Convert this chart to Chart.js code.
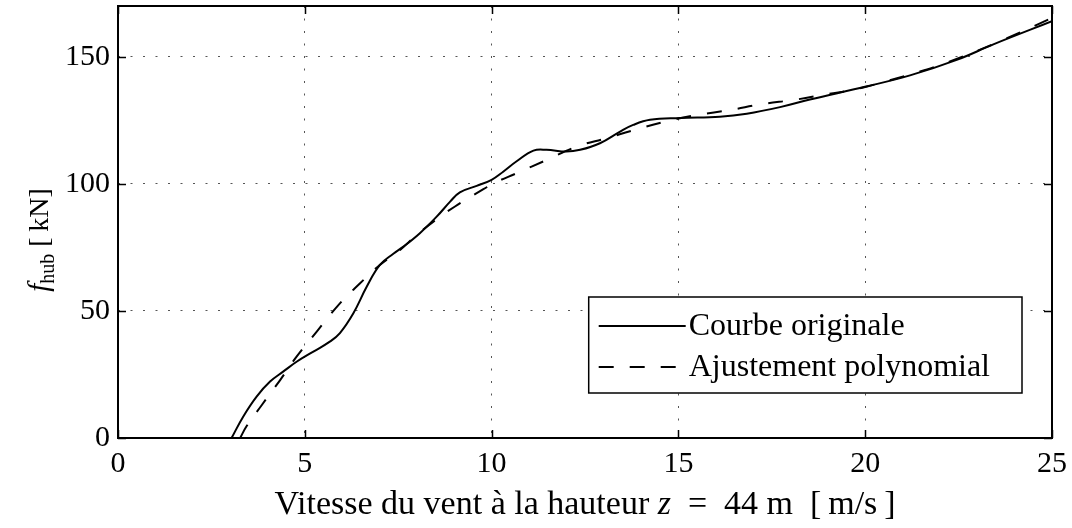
<!DOCTYPE html>
<html>
<head>
<meta charset="utf-8">
<script src="https://cdn.jsdelivr.net/npm/chart.js@4/dist/chart.umd.min.js"></script>
<style>
  html, body { margin: 0; padding: 0; background: #fff; }
  #wrap { width: 1072px; height: 528px; }
</style>
</head>
<body>
<div id="wrap"><canvas id="fhub"></canvas></div>
<script>
// wind speed [m/s] and hub force [kN], measured curve
const speedOriginal = [3.04, 3.35, 3.71, 4.07, 4.42, 4.78, 5.23, 5.67, 5.94, 6.3, 6.66, 7.01, 7.37, 7.64, 8.08, 8.53,
  8.89, 9.15, 9.6, 10.0, 10.31, 10.67, 11.12, 11.47, 12.0, 12.37, 12.9, 13.44, 13.79, 14.24, 15.04, 16.11, 16.83,
  17.72, 18.52, 20.02, 21.2, 22.45, 23.43, 25.0];
const forceOriginal = [0, 8.4, 16.3, 22.2, 26.1, 30.0, 34.0, 37.9, 41.3, 49.1, 59.6, 68.1, 72.5, 75.3, 80.6, 87.1,
  93.0, 96.7, 99.2, 101.6, 104.8, 108.9, 113.1, 113.4, 112.7, 113.4, 116.0, 120.6, 123.2, 125.2, 125.9, 126.4, 127.6,
  130.2, 133.2, 138.3, 142.7, 148.8, 154.9, 164.0];

// polynomial fit of the same curve
const speedFit = [3.27, 3.44, 3.85, 4.34, 4.78, 5.32, 5.94, 6.48, 7.0, 7.55, 8.0, 8.62, 9.02, 9.38, 9.78, 10.09,
  10.67, 11.47, 12.28, 13.08, 13.79, 14.7, 15.5, 16.4, 17.2, 18.16, 18.97, 19.77, 20.66, 21.47, 22.27, 23.43, 25.0];
const forceFit = [0, 4.6, 13.0, 22.8, 32.0, 41.9, 53.0, 60.9, 68.0, 74.0, 80.0, 87.1, 91.1, 94.4, 97.9, 100.5,
  104.2, 109.4, 114.7, 118.0, 121.1, 124.7, 127.1, 129.1, 131.3, 133.2, 135.3, 137.3, 140.8, 144.2, 148.2, 155.0, 165.3];

const xTicks = [0, 5, 10, 15, 20, 25];
const yTicks = [0, 50, 100, 150];
const seriesNames = ['Courbe originale', 'Ajustement polynomial'];

const SERIF = '"Liberation Serif", "DejaVu Serif", serif';
const FIT_DASH = [15, 16];

const toPoints = (xs, ys) => xs.map((x, i) => ({x: x, y: ys[i]}));

// draws runs of text with mixed styles starting at (x, y), returns the width
function drawRuns(ctx, runs, x, y, measureOnly) {
  let w = 0;
  for (const r of runs) {
    ctx.font = r.font;
    if (!measureOnly) ctx.fillText(r.text, x + w, y + (r.dy || 0));
    w += ctx.measureText(r.text).width;
  }
  return w;
}

// frame, inward ticks on all four sides, axis titles and the boxed legend
const decorations = {
  id: 'decorations',
  afterDatasetsDraw(chart) {
    const {ctx, chartArea: a, scales} = chart;
    ctx.save();
    ctx.strokeStyle = '#000';
    ctx.lineWidth = 1.5;
    ctx.beginPath();
    for (const t of scales.x.ticks) {
      const px = Math.round(scales.x.getPixelForValue(t.value)) + 0.5;
      ctx.moveTo(px, a.bottom); ctx.lineTo(px, a.bottom - 8);
      ctx.moveTo(px, a.top); ctx.lineTo(px, a.top + 8);
    }
    for (const t of scales.y.ticks) {
      const py = Math.round(scales.y.getPixelForValue(t.value)) + 0.5;
      ctx.moveTo(a.left, py); ctx.lineTo(a.left + 8, py);
      ctx.moveTo(a.right, py); ctx.lineTo(a.right - 8, py);
    }
    ctx.stroke();
    ctx.lineWidth = 2;
    ctx.strokeRect(a.left, a.top, a.right - a.left, a.bottom - a.top);

    // legend box
    ctx.font = '32px ' + SERIF;
    const textW = Math.max(...seriesNames.map(s => ctx.measureText(s).width));
    const sample = 87;
    const boxW = 10 + sample + 3 + textW + 32;
    const boxH = 96;
    const bx = a.right - 30 - boxW;
    const by = a.bottom - 45 - boxH;
    ctx.fillStyle = '#fff';
    ctx.fillRect(bx, by, boxW, boxH);
    ctx.lineWidth = 1.5;
    ctx.strokeRect(bx, by, boxW, boxH);
    ctx.fillStyle = '#000';
    ctx.textBaseline = 'middle';
    ctx.textAlign = 'left';
    seriesNames.forEach((name, i) => {
      const cy = by + 29 + i * 41;
      ctx.lineWidth = 1.8;
      ctx.setLineDash(i === 0 ? [] : FIT_DASH);
      ctx.beginPath();
      ctx.moveTo(bx + 10, cy); ctx.lineTo(bx + 10 + sample, cy);
      ctx.stroke();
      ctx.setLineDash([]);
      ctx.fillText(name, bx + 10 + sample + 3, cy + 1);
    });

    // x axis title, math part spaced a little wider
    const xRuns = [
      {text: 'Vitesse du vent à la hauteur ', font: '34px ' + SERIF},
      {text: 'z', font: 'italic 34px ' + SERIF},
      {text: '\u2002=\u200244 m\u2002[\u2009m/s\u2009]', font: '34px ' + SERIF}
    ];
    ctx.textBaseline = 'alphabetic';
    const xw = drawRuns(ctx, xRuns, 0, 0, true);
    drawRuns(ctx, xRuns, (a.left + a.right) / 2 - xw / 2, 514);

    // y axis title, rotated
    const yRuns = [
      {text: 'f', font: 'italic 29px ' + SERIF},
      {text: 'hub', font: '20px ' + SERIF, dy: 6},
      {text: ' [\u2009kN]', font: '28px ' + SERIF}
    ];
    const yw = drawRuns(ctx, yRuns, 0, 0, true);
    ctx.translate(48, 240);
    ctx.rotate(-Math.PI / 2);
    drawRuns(ctx, yRuns, -yw / 2, 0);
    ctx.restore();
  }
};

new Chart(document.getElementById('fhub'), {
  type: 'scatter',
  data: {
    datasets: [
      {
        label: seriesNames[0],
        data: toPoints(speedOriginal, forceOriginal),
        showLine: true,
        borderColor: '#000',
        borderWidth: 2,
        pointRadius: 0,
        tension: 0.4
      },
      {
        label: seriesNames[1],
        data: toPoints(speedFit, forceFit),
        showLine: true,
        borderColor: '#000',
        borderWidth: 2,
        borderDash: FIT_DASH,
        pointRadius: 0,
        tension: 0.4
      }
    ]
  },
  options: {
    responsive: true,
    maintainAspectRatio: false,
    animation: false,
    layout: {padding: {left: 0, top: 6, right: 20, bottom: 0}},
    scales: {
      x: {
        type: 'linear',
        min: 0,
        max: 25,
        afterBuildTicks: s => { s.ticks = xTicks.map(v => ({value: v})); },
        afterFit: s => { s.height = 90; s.paddingLeft = 0; s.paddingRight = 0; },
        ticks: {color: '#000', font: {family: SERIF, size: 30}, padding: 8},
        grid: {color: '#555', lineWidth: 1, drawTicks: false},
        border: {display: false, dash: [2, 10.5]}
      },
      y: {
        type: 'linear',
        min: 0,
        max: 170,
        afterBuildTicks: s => { s.ticks = yTicks.map(v => ({value: v})); },
        afterFit: s => { s.width = 118; s.paddingTop = 0; s.paddingBottom = 0; },
        ticks: {color: '#000', font: {family: SERIF, size: 30}, padding: 8},
        grid: {color: '#555', lineWidth: 1, drawTicks: false},
        border: {display: false, dash: [2, 10.5]}
      }
    },
    plugins: {legend: {display: false}, tooltip: {enabled: false}}
  },
  plugins: [decorations]
});
</script>
</body>
</html>
